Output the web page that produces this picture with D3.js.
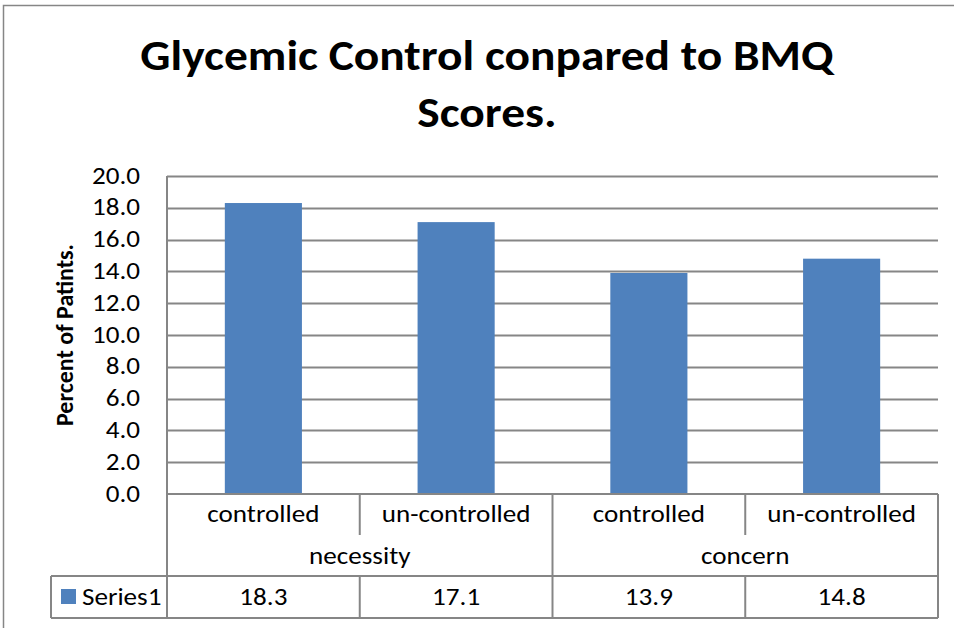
<!DOCTYPE html>
<html>
<head>
<meta charset="utf-8">
<script src="https://cdn.jsdelivr.net/npm/d3@7"></script>
<style>
  body { margin: 0; background: #fff; }
  svg text { font-family: Carlito, Lato, "Open Sans", sans-serif; fill: #000; }
</style>
</head>
<body>
<svg id="chart" width="954" height="628"></svg>
<script>

// chart data
var groups = ["necessity", "concern"];
var categories = ["controlled", "un-controlled", "controlled", "un-controlled"];
var categoryGroup = [0, 0, 1, 1];
var values = [18.3, 17.1, 13.9, 14.8];
var seriesName = "Series1";
var yTicks = [0, 2, 4, 6, 8, 10, 12, 14, 16, 18, 20];

var titleLines = ["Glycemic Control conpared to BMQ", "Scores."];
var yLabel = "Percent of Patints.";

var svg = d3.select("#chart");

var gridColor = "#868686";
var barColor = "#4f81bd";
// the reference text is a bit wider than the font, stretch it horizontally
var sx = 1.13;

// place a text with horizontal stretch around its anchor point
var stretch = function(sel, fx, fy) {
    sel.attr("transform", function(d, i) {
        return "translate(" + fx(d, i) + "," + fy(d, i) + ") scale(" + sx + ",1)";
    });
};

// plot area
var margin = {left: 167, right: 16, top: 176};
var plotRight = 954 - margin.right;
var plotBottom = 494;

var x = d3.scaleBand()
    .domain(d3.range(categories.length))
    .range([margin.left, plotRight])
    .paddingInner(0.6)
    .paddingOuter(0.3);

var y = d3.scaleLinear().domain([0, 20]).range([plotBottom, margin.top]);

var step = x.step();
var cellLeft = function(i) { return margin.left + i * step; };

// outer chart border
svg.append("path")
    .attr("d", "M3.5,640 V5.5 H960")
    .attr("fill", "none")
    .attr("stroke", gridColor)
    .attr("stroke-width", 1.5);

// title
svg.append("g").selectAll("text")
    .data(titleLines)
    .enter().append("text")
    .attr("text-anchor", "middle")
    .style("font-size", "42px")
    .style("font-weight", "bold")
    .text(function(d) { return d; })
    .call(stretch, function() { return 487; }, function(d, i) { return 70 + i * 57; });

// gridlines
svg.append("g").selectAll("line")
    .data(yTicks.slice(1))
    .enter().append("line")
    .attr("x1", margin.left)
    .attr("x2", plotRight)
    .attr("y1", function(d) { return Math.round(y(d)) + 0.5; })
    .attr("y2", function(d) { return Math.round(y(d)) + 0.5; })
    .attr("stroke", gridColor)
    .attr("stroke-width", 2);

// y axis labels
svg.append("g").selectAll("text")
    .data(yTicks)
    .enter().append("text")
    .attr("text-anchor", "end")
    .attr("dy", "0.32em")
    .style("font-size", "24px")
    .text(d3.format(".1f"))
    .call(stretch, function() { return 140; }, function(d) { return y(d); });

// y axis title
svg.append("text")
    .attr("transform", "translate(73," + 335 + ") rotate(-90)")
    .attr("text-anchor", "middle")
    .style("font-size", "24px")
    .style("font-weight", "bold")
    .text(yLabel);

// bars
svg.append("g").selectAll("rect")
    .data(values)
    .enter().append("rect")
    .attr("x", function(d, i) { return x(i); })
    .attr("width", x.bandwidth())
    .attr("y", function(d) { return y(d); })
    .attr("height", function(d) { return plotBottom - y(d); })
    .attr("fill", barColor);

// data table
var rowCat = plotBottom + 41;
var rowGroup = 576;
var rowBottom = 618;
var legendLeft = 51;

var table = svg.append("g")
    .attr("stroke", gridColor)
    .attr("stroke-width", 2)
    .attr("fill", "none");

// left axis line
table.append("line")
    .attr("x1", margin.left).attr("x2", margin.left)
    .attr("y1", margin.top).attr("y2", rowBottom);
// baseline
table.append("line")
    .attr("x1", margin.left).attr("x2", plotRight)
    .attr("y1", plotBottom).attr("y2", plotBottom);
// series row
table.append("line")
    .attr("x1", legendLeft).attr("x2", plotRight)
    .attr("y1", rowGroup).attr("y2", rowGroup);
table.append("line")
    .attr("x1", legendLeft).attr("x2", plotRight)
    .attr("y1", rowBottom).attr("y2", rowBottom);
table.append("line")
    .attr("x1", legendLeft).attr("x2", legendLeft)
    .attr("y1", rowGroup).attr("y2", rowBottom);

// vertical dividers
categories.forEach(function(c, i) {
    var xr = cellLeft(i + 1);
    var groupEnd = (i === categories.length - 1) || categoryGroup[i + 1] !== categoryGroup[i];
    table.append("line")
        .attr("x1", xr).attr("x2", xr)
        .attr("y1", plotBottom)
        .attr("y2", groupEnd ? rowBottom : rowCat);
    if (!groupEnd) {
        table.append("line")
            .attr("x1", xr).attr("x2", xr)
            .attr("y1", rowGroup).attr("y2", rowBottom);
    }
});

// category labels
svg.append("g").selectAll("text")
    .data(categories)
    .enter().append("text")
    .attr("text-anchor", "middle")
    .style("font-size", "24px")
    .text(function(d) { return d; })
    .call(stretch, function(d, i) { return cellLeft(i) + step / 2; }, function() { return 522; });

// group labels
svg.append("g").selectAll("text")
    .data(groups)
    .enter().append("text")
    .attr("text-anchor", "middle")
    .style("font-size", "24px")
    .text(function(d) { return d; })
    .call(stretch, function(d, gi) {
        var idx = categoryGroup.map(function(g, i) { return g === gi ? i : -1; }).filter(function(i) { return i >= 0; });
        return (cellLeft(idx[0]) + cellLeft(idx[idx.length - 1] + 1)) / 2;
    }, function() { return 564; });

// value row
svg.append("g").selectAll("text")
    .data(values)
    .enter().append("text")
    .attr("text-anchor", "middle")
    .style("font-size", "24px")
    .text(function(d) { return d3.format(".1f")(d); })
    .call(stretch, function(d, i) { return cellLeft(i) + step / 2; }, function() { return 605; });

// legend key
svg.append("rect")
    .attr("x", 61).attr("y", 589)
    .attr("width", 15).attr("height", 15)
    .attr("fill", barColor);
svg.append("text")
    .style("font-size", "24px")
    .text(seriesName)
    .call(stretch, function() { return 82; }, function() { return 605; });

</script>
</body>
</html>
